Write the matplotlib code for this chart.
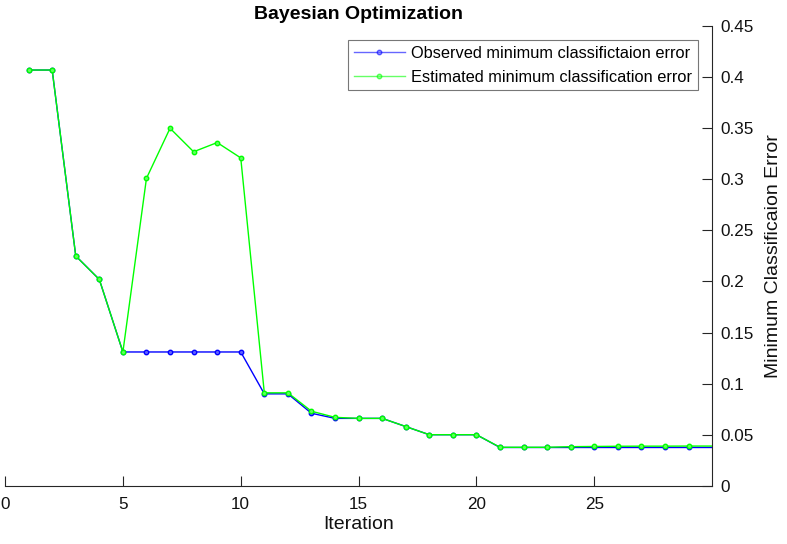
import matplotlib
matplotlib.use("Agg")
import matplotlib.pyplot as plt

plt.rcParams['font.family'] = ['Liberation Sans', 'DejaVu Sans']

iterations = list(range(1, 31))
observed = [0.407, 0.407, 0.225, 0.202, 0.131, 0.131, 0.131, 0.131, 0.131, 0.131,
            0.090, 0.090, 0.071, 0.066, 0.066, 0.066, 0.058, 0.050, 0.050, 0.050,
            0.0375, 0.0375, 0.0375, 0.0375, 0.0375, 0.0375, 0.0375, 0.0375, 0.0375, 0.0375]
estimated = [0.407, 0.407, 0.225, 0.202, 0.131, 0.301, 0.350, 0.327, 0.336, 0.321,
             0.091, 0.091, 0.073, 0.067, 0.066, 0.066, 0.058, 0.050, 0.050, 0.050,
             0.0377, 0.0377, 0.0377, 0.0383, 0.0385, 0.0387, 0.0388, 0.0388, 0.0389, 0.0389]
x_ticks = [0, 5, 10, 15, 20, 25]
y_ticks = [0, 0.05, 0.1, 0.15, 0.2, 0.25, 0.3, 0.35, 0.4, 0.45]
y_ticklabels = ['0', '0.05', '0.1', '0.15', '0.2', '0.25', '0.3', '0.35', '0.4', '0.45']

fig = plt.figure(figsize=(7.87, 5.44), dpi=100)
ax = fig.add_axes([0.0064, 0.107, 0.8985, 0.845])

blue = '#0000ff'
green = '#00ff00'
ax.plot(iterations, observed, color=blue, lw=1.0, marker='o', ms=3.2,
        mfc='#6060ff', mec=blue, mew=1.0, markevery=slice(0, 29), zorder=2,
        label='Observed minimum classifictaion error')
ax.plot(iterations, estimated, color=green, lw=1.0, marker='o', ms=3.2,
        mfc='#60ff60', mec=green, mew=1.0, markevery=slice(0, 29), zorder=3,
        label='Estimated minimum classification error')

ax.set_xlim(0, 30)
ax.set_ylim(0, 0.45)
ax.set_xticks(x_ticks)
ax.set_xticklabels([str(t) for t in x_ticks])
ax.yaxis.tick_right()
ax.yaxis.set_label_position('right')
ax.set_yticks(y_ticks)
ax.set_yticklabels(y_ticklabels)

for s in ['top', 'left']:
    ax.spines[s].set_visible(False)
for s in ['bottom', 'right']:
    ax.spines[s].set_color('#262626')
    ax.spines[s].set_linewidth(0.8)
ax.tick_params(axis='both', direction='in', length=7, width=0.8, colors='#262626',
               labelsize=12.3, labelcolor='#111111')
ax.tick_params(axis='x', pad=8)
ax.tick_params(axis='y', pad=6)

ax.set_xlabel('Iteration', fontsize=14, color='#111111', labelpad=3)
ax.set_ylabel('Minimum Classificaion Error', fontsize=14, color='#111111',
              rotation=90, labelpad=8)
ax.set_title('Bayesian Optimization', fontsize=14, fontweight='bold', pad=5)

leg = ax.legend(loc='upper right', bbox_to_anchor=(698 / 787, 1 - 40 / 544),
                bbox_transform=fig.transFigure, fontsize=11.8, frameon=True,
                fancybox=False, edgecolor='#555555', handlelength=3.1,
                handletextpad=0.4, borderpad=0.35, labelspacing=0.55,
                borderaxespad=0)
leg.get_frame().set_linewidth(0.8)
for h in leg.get_lines():
    h.set_alpha(0.6)

fig.savefig('out.png', dpi=100)
